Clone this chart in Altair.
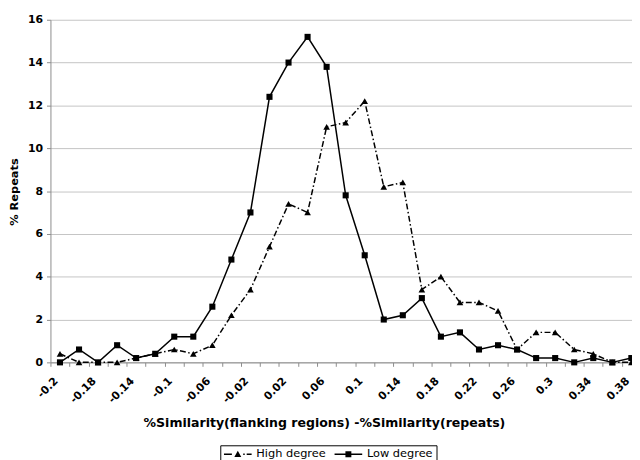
import json
import altair as alt
import pandas as pd

# ---- data ----
categories = ["-0.2", "-0.19", "-0.18", "-0.16", "-0.14", "-0.12", "-0.1", "-0.08",
              "-0.06", "-0.04", "-0.02", "0", "0.02", "0.04", "0.06", "0.08", "0.1",
              "0.12", "0.14", "0.16", "0.18", "0.2", "0.22", "0.24", "0.26", "0.28",
              "0.3", "0.32", "0.34", "0.36", "0.38"]
high_degree = [0.4, 0.0, 0.0, 0.0, 0.2, 0.4, 0.6, 0.4, 0.8, 2.2, 3.4, 5.4, 7.4, 7.0,
               11.0, 11.2, 12.2, 8.2, 8.4, 3.4, 4.0, 2.8, 2.8, 2.4, 0.6, 1.4, 1.4,
               0.6, 0.4, 0.0, 0.0]
low_degree = [0.0, 0.6, 0.0, 0.8, 0.2, 0.4, 1.2, 1.2, 2.6, 4.8, 7.0, 12.4, 14.0, 15.2,
              13.8, 7.8, 5.0, 2.0, 2.2, 3.0, 1.2, 1.4, 0.6, 0.8, 0.6, 0.2, 0.2, 0.0,
              0.2, 0.0, 0.2]
series_names = ["High degree", "Low degree"]
y_ticks = [0, 2, 4, 6, 8, 10, 12, 14, 16]

rows = []
for i, c in enumerate(categories):
    rows.append({"bin": c, "series": series_names[0], "value": high_degree[i]})
    rows.append({"bin": c, "series": series_names[1], "value": low_degree[i]})
df = pd.DataFrame(rows)

FONT = "DejaVu Sans"
GREY = "#8c8c8c"
DASH_HIGH = [6, 2.5, 1.5, 2.5]

label_expr = ("indexof(" + json.dumps(categories) +
              ", datum.value) % 2 == 0 ? datum.value : ''")

x_enc = alt.X(
    "bin:O", sort=categories, bandPosition=0.5,
    scale=alt.Scale(type="band", paddingInner=0, paddingOuter=0, range=[0, 598]),
    axis=alt.Axis(
        title="%Similarity(flanking regions) -%Similarity(repeats)",
        labelExpr=label_expr, labelAngle=-45, labelAlign="right",
        labelBaseline="middle", labelPadding=13, labelOffset=-4, labelOverlap=False,
        tickBand="extent", tickSize=4, tickColor=GREY, domainColor=GREY,
        labelFont=FONT, labelFontWeight="bold", labelFontSize=11, labelColor="black",
        titleFont=FONT, titleFontSize=12.7, titleFontWeight="bold", titleColor="black",
        titleX=277, titleY=61, titleAlign="center", titleBaseline="middle",
        grid=False,
    ),
)
y_enc = alt.Y(
    "value:Q",
    scale=alt.Scale(domain=[0, 16], nice=False),
    axis=alt.Axis(
        values=y_ticks, title="% Repeats", tickSize=4, tickColor=GREY,
        domainColor=GREY, grid=True, gridColor="#c4c4c4", gridWidth=1,
        labelFont=FONT, labelFontWeight="bold", labelFontSize=11, labelColor="black",
        labelPadding=4,
        titleFont=FONT, titleFontSize=11.5, titleFontWeight="bold", titleColor="black",
        titleX=-36, titleY=174, titleAngle=270, titleAlign="center",
        titleBaseline="middle",
    ),
)

base = alt.Chart(df)
high = base.transform_filter(alt.datum.series == series_names[0])
low = base.transform_filter(alt.datum.series == series_names[1])

high_line = high.mark_line(color="black", strokeWidth=1.5, strokeDash=DASH_HIGH).encode(x=x_enc, y=y_enc)
low_line = low.mark_line(color="black", strokeWidth=1.5).encode(x=x_enc, y=y_enc)
high_pts = high.mark_point(shape="triangle-up", filled=True, color="black", size=45, opacity=1).encode(x=x_enc, y=y_enc)
low_pts = low.mark_point(shape="square", filled=True, color="black", size=38, opacity=1).encode(x=x_enc, y=y_enc)

# legend symbols: line sample + marker, drawn as filled outlines
high_path = ("M-2.8,-0.15H-1.2V0.15H-2.8Z "
             "M0,-0.7L0.7,0.55H-0.7Z "
             "M1.1,-0.15H1.4V0.15H1.1Z "
             "M1.8,-0.15H2.8V0.15H1.8Z")
low_path = ("M-2.8,-0.15H2.8V0.15H-2.8Z "
            "M-0.6,-0.6H0.6V0.6H-0.6Z")

legend = alt.Legend(
    title=None, orient="none", legendX=172, legendY=431, direction="horizontal",
    strokeColor="black", padding=3, symbolSize=100, symbolStrokeWidth=0,
    symbolOpacity=1, symbolOffset=9, labelOffset=13,
    labelFont=FONT, labelFontSize=11.5, labelColor="black", columnPadding=8,
)
legend_layer = base.mark_point(filled=True, color="black", opacity=0).encode(
    x=x_enc, y=y_enc,
    shape=alt.Shape("series:N", scale=alt.Scale(domain=series_names, range=[high_path, low_path]), legend=legend),
)

chart = alt.layer(high_line, low_line, high_pts, low_pts, legend_layer).properties(
    width=589, height=347,
    autosize=alt.AutoSizeParams(type="none"),
    padding={"left": 43, "top": 9, "right": 0, "bottom": 96},
    background="white",
).configure_view(stroke=None)

chart.save("out.html", embed_options={"renderer": "svg", "actions": False})
